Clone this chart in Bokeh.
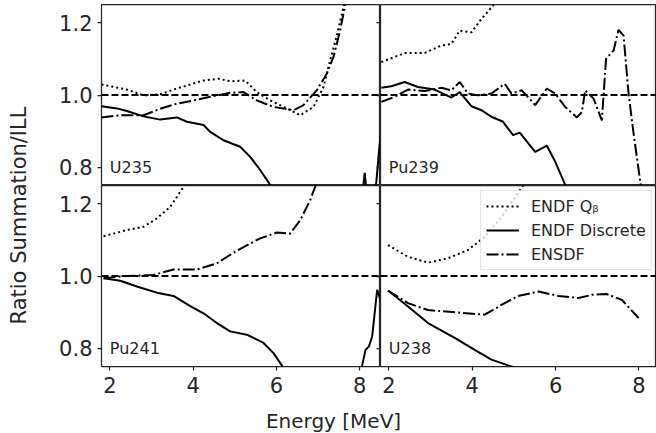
import math
from bokeh.plotting import figure
from bokeh.models import (GridPlot, Toolbar, Span, Label, Legend, LegendItem,
                          LinearAxis, FixedTicker, PrintfTickFormatter, Range1d)
from bokeh.embed import file_html
from bokeh.resources import INLINE

# ---------------- data ----------------
XTICKS = [2, 4, 6, 8]
YTICKS = [0.8, 1.0, 1.2]
PANEL_NAMES = ["U235", "Pu239", "Pu241", "U238"]
LEGEND_LABELS = ["ENDF Q\u1d66", "ENDF Discrete", "ENSDF"]
X_LABEL = "Energy [MeV]"
Y_LABEL = "Ratio Summation/ILL"

U235_QB_X = [1.80, 2.41, 2.81, 3.21, 3.61, 4.25, 4.61, 4.89, 5.25, 5.53, 5.85, 6.25, 6.57, 6.89, 7.13, 7.29, 7.46, 7.61, 7.75]
U235_QB_Y = [1.029, 1.015, 0.999, 1.002, 1.018, 1.040, 1.045, 1.038, 1.040, 1.008, 0.985, 0.963, 0.944, 0.967, 1.022, 1.095, 1.169, 1.242, 1.32]
U235_EN_X = [1.80, 2.25, 2.81, 3.21, 3.61, 4.01, 4.41, 4.89, 5.21, 5.53, 5.93, 6.41, 6.65, 6.97, 7.21, 7.37, 7.53, 7.65, 7.75]
U235_EN_Y = [0.938, 0.944, 0.944, 0.962, 0.976, 0.985, 0.995, 1.006, 1.008, 0.985, 0.967, 0.958, 0.972, 1.013, 1.059, 1.105, 1.178, 1.247, 1.31]
U235_DI_X = [1.80, 2.17, 2.41, 2.81, 3.21, 3.61, 3.85, 4.25, 4.41, 4.73, 5.13, 5.37, 5.61, 5.85, 6.0, 7.0, 7.9, 8.06, 8.12, 8.18, 8.35, 8.40, 8.46, 8.51]
U235_DI_Y = [0.969, 0.963, 0.956, 0.941, 0.932, 0.938, 0.926, 0.917, 0.898, 0.875, 0.857, 0.829, 0.793, 0.752, 0.72, 0.55, 0.62, 0.72, 0.785, 0.72, 0.72, 0.76, 0.84, 0.895]

PU239_QB_X = [1.82, 2.38, 2.86, 3.26, 3.50, 3.70, 3.98, 4.22, 4.50, 4.70]
PU239_QB_Y = [1.091, 1.116, 1.116, 1.137, 1.141, 1.178, 1.173, 1.210, 1.247, 1.29]
PU239_EN_X = [1.82, 2.14, 2.46, 2.86, 3.26, 3.50, 3.70, 3.90, 4.14, 4.46, 4.78, 4.94, 5.19, 5.51, 5.79, 5.99, 6.23, 6.51, 6.63, 6.71, 6.91, 7.11, 7.21, 7.39, 7.51, 7.63, 7.75, 7.87, 8.03, 8.10]
PU239_EN_Y = [0.981, 0.995, 1.015, 1.011, 1.020, 1.013, 1.036, 1.004, 0.999, 1.004, 1.031, 1.004, 1.013, 0.972, 1.018, 1.004, 0.967, 0.938, 0.953, 1.013, 0.990, 0.930, 1.100, 1.123, 1.180, 1.164, 1.004, 0.894, 0.761, 0.70]
PU239_DI_X = [1.82, 2.06, 2.38, 2.70, 3.10, 3.50, 3.70, 3.98, 4.22, 4.46, 4.74, 4.98, 5.14, 5.51, 5.79, 5.99, 6.23, 6.50]
PU239_DI_Y = [1.020, 1.024, 1.036, 1.022, 1.015, 0.993, 1.008, 0.969, 0.958, 0.940, 0.926, 0.889, 0.896, 0.843, 0.860, 0.816, 0.752, 0.70]

PU241_QB_X = [1.85, 2.41, 2.81, 3.13, 3.45, 3.77, 3.90]
PU241_QB_Y = [1.110, 1.127, 1.136, 1.159, 1.191, 1.246, 1.28]
PU241_EN_X = [1.85, 2.41, 3.05, 3.53, 4.09, 4.57, 5.05, 5.61, 6.01, 6.33, 6.57, 6.81, 6.93, 7.05]
PU241_EN_Y = [0.994, 1.000, 1.003, 1.018, 1.018, 1.035, 1.070, 1.104, 1.120, 1.117, 1.154, 1.209, 1.246, 1.29]
PU241_DI_X = [1.85, 2.25, 2.65, 3.13, 3.53, 3.93, 4.25, 4.57, 4.89, 5.29, 5.69, 5.93, 6.13, 6.30, 7.20, 7.95, 8.06, 8.14, 8.22, 8.30, 8.42, 8.51]
PU241_DI_Y = [0.994, 0.987, 0.971, 0.954, 0.945, 0.917, 0.897, 0.870, 0.847, 0.838, 0.815, 0.787, 0.753, 0.72, 0.60, 0.70, 0.753, 0.796, 0.805, 0.833, 0.962, 0.930]

U238_QB_X = [1.98, 2.46, 2.94, 3.42, 3.90, 4.30, 4.70, 4.98, 5.22, 5.40]
U238_QB_Y = [1.085, 1.053, 1.037, 1.049, 1.072, 1.108, 1.163, 1.209, 1.250, 1.28]
U238_EN_X = [1.98, 2.46, 2.94, 3.66, 4.30, 4.70, 5.10, 5.59, 6.07, 6.55, 6.87, 7.23, 7.59, 7.99]
U238_EN_Y = [0.960, 0.925, 0.906, 0.899, 0.893, 0.920, 0.945, 0.957, 0.945, 0.939, 0.948, 0.950, 0.934, 0.884]
U238_DI_X = [1.98, 2.46, 2.94, 3.58, 4.06, 4.46, 4.86, 5.50, 6.50, 8.00]
U238_DI_Y = [0.960, 0.916, 0.870, 0.829, 0.796, 0.769, 0.753, 0.73, 0.71, 0.70]

# ---------------- style ----------------
TEXT = "#262626"
FONT = "DejaVu Sans"
LINE = "black"
LW = 2
DOT = "2 3"
DASHDOT = "12 3 2 3"
DASH = "7 3"
TOP = 4
FRAME_H = 181
BOTTOM = 42
LEFT = 53


def make_panel(fw, fh, xr, yr, left, bottom, top, inner_right):
    p = figure(frame_width=fw, frame_height=fh, x_range=Range1d(*xr), y_range=Range1d(*yr),
               x_axis_type=None, y_axis_type=None, output_backend="svg", title=None,
               toolbar_location=None, min_border_left=LEFT if left else 0,
               min_border_right=0, min_border_top=TOP if top else 0,
               min_border_bottom=BOTTOM if bottom else 0)
    p.outline_line_color = TEXT
    p.outline_line_width = 1.25
    p.background_fill_color = "white"
    p.border_fill_color = "white"
    if left:
        ax = LinearAxis(ticker=FixedTicker(ticks=YTICKS), formatter=PrintfTickFormatter(format="%.1f"))
        ax.major_tick_out = 4
        ax.major_tick_in = 0
        ax.minor_tick_out = 0
        ax.minor_tick_in = 0
        ax.major_tick_line_color = TEXT
        ax.major_tick_line_width = 1.25
        ax.axis_line_color = None
        ax.major_label_standoff = 5
        ax.major_label_text_font = FONT
        ax.major_label_text_font_size = "21px"
        ax.major_label_text_color = TEXT
        p.add_layout(ax, "left")
    if inner_right:
        ax = LinearAxis(ticker=FixedTicker(ticks=YTICKS))
        ax.major_tick_out = 0
        ax.major_tick_in = 4
        ax.minor_tick_out = 0
        ax.minor_tick_in = 0
        ax.major_tick_line_color = TEXT
        ax.major_tick_line_width = 1.25
        ax.axis_line_color = None
        ax.major_label_standoff = 0
        ax.major_label_text_font_size = "0px"
        ax.major_label_text_color = None
        p.add_layout(ax, "right")
    if bottom:
        ax = LinearAxis(ticker=FixedTicker(ticks=XTICKS))
        ax.major_tick_out = 4
        ax.major_tick_in = 0
        ax.minor_tick_out = 0
        ax.minor_tick_in = 0
        ax.major_tick_line_color = TEXT
        ax.major_tick_line_width = 1.25
        ax.axis_line_color = None
        ax.major_label_standoff = 6
        ax.major_label_text_font = FONT
        ax.major_label_text_font_size = "21px"
        ax.major_label_text_color = TEXT
        p.add_layout(ax, "below")
    return p


def draw(p, qx, qy, dx, dy, ex, ey, name, label_y):
    r_q = p.line(qx, qy, line_color=LINE, line_width=LW, line_dash=DOT)
    r_d = p.line(dx, dy, line_color=LINE, line_width=LW)
    r_e = p.line(ex, ey, line_color=LINE, line_width=LW, line_dash=DASHDOT)
    p.add_layout(Span(location=1.0, dimension="width", line_color=LINE,
                      line_width=LW, line_dash=DASH))
    p.add_layout(Label(x=2.0, y=label_y, text=name, text_font=FONT,
                       text_font_size="16px", text_color=TEXT,
                       text_baseline="alphabetic"))
    return r_q, r_d, r_e


XR_L = (1.80, 8.50)
XR_R = (1.80, 8.42)
YR = (0.75, 1.25)

tl = make_panel(279, FRAME_H, XR_L, YR, True, False, True, True)
tr = make_panel(276, FRAME_H, XR_R, YR, False, False, True, False)
bl = make_panel(279, FRAME_H, XR_L, YR, True, True, False, True)
br = make_panel(276, FRAME_H, XR_R, YR, False, True, False, False)

draw(tl, U235_QB_X, U235_QB_Y, U235_DI_X, U235_DI_Y, U235_EN_X, U235_EN_Y, PANEL_NAMES[0], 0.80)
draw(tr, PU239_QB_X, PU239_QB_Y, PU239_DI_X, PU239_DI_Y, PU239_EN_X, PU239_EN_Y, PANEL_NAMES[1], 0.80)
draw(bl, PU241_QB_X, PU241_QB_Y, PU241_DI_X, PU241_DI_Y, PU241_EN_X, PU241_EN_Y, PANEL_NAMES[2], 0.80)
rq, rd, re = draw(br, U238_QB_X, U238_QB_Y, U238_DI_X, U238_DI_Y, U238_EN_X, U238_EN_Y, PANEL_NAMES[3], 0.80)

legend = Legend(items=[LegendItem(label=LEGEND_LABELS[0], renderers=[rq]),
                       LegendItem(label=LEGEND_LABELS[1], renderers=[rd]),
                       LegendItem(label=LEGEND_LABELS[2], renderers=[re])],
                location=(100, 96))
legend.label_text_font = FONT
legend.label_text_font_size = "16px"
legend.label_text_color = TEXT
legend.glyph_width = 33
legend.glyph_height = 20
legend.label_height = 20
legend.label_standoff = 12
legend.padding = 5
legend.spacing = 4
legend.margin = 0
legend.border_line_color = "#cccccc"
legend.border_line_width = 1
legend.background_fill_alpha = 0.8
br.add_layout(legend)

# axis-title helper canvases (their frames get aligned with the panel frames)
YLAB_H = TOP + 2 * FRAME_H + BOTTOM
XLAB_H = 433 - YLAB_H
YLAB_FRAME_BOTTOM = YLAB_H - BOTTOM
YLAB_FRAME_H = 2 * FRAME_H


def label_canvas(w, h):
    f = figure(width=w, height=h, x_range=Range1d(0, 1), y_range=Range1d(0, 1),
               x_axis_type=None, y_axis_type=None, output_backend="svg", title=None,
               toolbar_location=None, min_border=0, min_border_left=0,
               min_border_right=0, min_border_top=0, min_border_bottom=0)
    f.outline_line_color = None
    f.background_fill_color = "white"
    f.border_fill_color = "white"
    return f


ylab = label_canvas(48, YLAB_H)
ylab.add_layout(Label(x=0.375, y=(YLAB_FRAME_BOTTOM - 215) / YLAB_FRAME_H, text=Y_LABEL,
                      angle=math.pi / 2, text_align="center", text_baseline="middle",
                      text_font=FONT, text_font_size="21px", text_color=TEXT))

xlab = label_canvas(332 + 276, XLAB_H)
xlab.add_layout(Label(x=(333 - 101) / 555, y=1.0, text=X_LABEL, text_align="center",
                      text_baseline="top", text_font=FONT,
                      text_font_size="20px", text_color=TEXT))

grid = GridPlot(children=[(ylab, 0, 0, 2, 1), (tl, 0, 1), (tr, 0, 2),
                          (bl, 1, 1), (br, 1, 2), (xlab, 2, 1, 1, 2)],
                toolbar=Toolbar(), toolbar_location=None, spacing=0)

open("out.html", "w").write(file_html(grid, INLINE))
